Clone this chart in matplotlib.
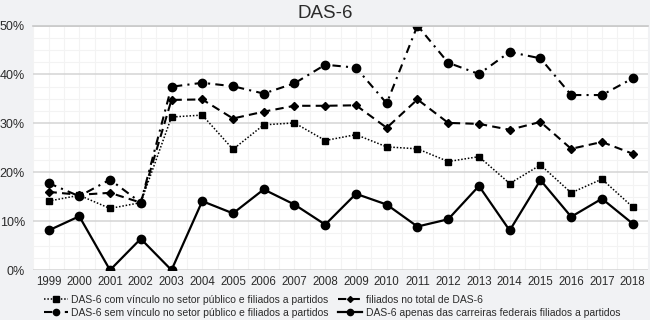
import matplotlib
matplotlib.use('Agg')
import matplotlib.pyplot as plt
from matplotlib.ticker import PercentFormatter, MultipleLocator

plt.rcParams['font.family'] = ['Liberation Sans', 'DejaVu Sans']

anos = list(range(1999, 2019))

# valores em %
com_vinculo = [14.1, 15.3, 12.6, 13.8, 31.3, 31.7, 24.7, 29.7, 30.1, 26.5,
               27.7, 25.2, 24.8, 22.2, 23.2, 17.7, 21.5, 15.8, 18.6, 12.9]
sem_vinculo = [17.8, 15.1, 18.5, 13.8, 37.5, 38.3, 37.6, 36.1, 38.2, 42.0,
               41.4, 34.1, 50.0, 42.4, 40.1, 44.6, 43.3, 35.8, 35.8, 39.2]
filiados_total = [16.0, 15.4, 15.8, 13.8, 34.8, 34.9, 31.0, 32.4, 33.6, 33.6,
                  33.7, 29.1, 34.9, 30.1, 29.9, 28.7, 30.3, 24.8, 26.2, 23.8]
carreiras = [8.1, 11.0, 0.0, 6.4, 0.0, 14.1, 11.6, 16.5, 13.4, 9.3,
             15.6, 13.4, 8.9, 10.4, 17.2, 8.1, 18.4, 10.9, 14.6, 9.5]

rotulos = ['DAS-6 com vínculo no setor público e filiados a partidos',
           'DAS-6 sem vínculo no setor público e filiados a partidos',
           'filiados no total de DAS-6',
           'DAS-6 apenas das carreiras federais filiados a partidos']

fundo = '#f1f2f4'
texto = '#2b2b2b'

fig = plt.figure(figsize=(6.5, 3.2), dpi=100, facecolor=fundo)
ax = fig.add_axes([0.051, 0.156, 0.946, 0.764])
ax.set_facecolor('white')

l1, = ax.plot(anos, com_vinculo, color='black', lw=1.1, ls=(0, (1, 1.2)),
              marker='s', ms=5)
l2, = ax.plot(anos, sem_vinculo, color='black', lw=1.5, ls=(0, (4, 2.5, 1, 2.5)),
              marker='o', ms=6)
l3, = ax.plot(anos, filiados_total, color='black', lw=1.5, ls=(0, (4, 2.5)),
              marker='D', ms=4)
l4, = ax.plot(anos, carreiras, color='black', lw=1.6, ls='-',
              marker='o', ms=6)

ax.set_xlim(1998.5, 2018.5)
ax.set_ylim(0, 50)
ax.yaxis.set_major_locator(MultipleLocator(10))
ax.yaxis.set_major_formatter(PercentFormatter(decimals=0))
ax.yaxis.set_minor_locator(MultipleLocator(2.5))
ax.set_xticks(anos)
ax.xaxis.set_minor_locator(MultipleLocator(0.5))

ax.grid(which='minor', color='#f3f3f3', lw=0.8)
ax.grid(which='major', axis='y', color='#d4d4d4', lw=1.1)
ax.grid(which='major', axis='x', color='#f3f3f3', lw=0.8)
ax.set_axisbelow(True)
for lado in ['left', 'right', 'bottom']:
    ax.spines[lado].set_visible(False)
ax.spines['top'].set_color('#c8c8c8')
ax.spines['top'].set_linewidth(1.2)

ax.tick_params(which='both', length=0)
ax.tick_params(axis='y', pad=6, labelsize=9, labelcolor=texto)
ax.tick_params(axis='x', pad=4, labelsize=8.3, labelcolor=texto)

fig.text(0.5, 0.958, 'DAS-6', ha='center', va='center', fontsize=13.5, color=texto)

# legenda em duas colunas embaixo
fig.legend([l1, l2, l3, l4], [rotulos[0], rotulos[1], rotulos[2], rotulos[3]],
           ncol=2, loc='lower left', bbox_to_anchor=(0.064, 0.0),
           borderaxespad=0, borderpad=0.2, markerscale=0.75,
           frameon=False, fontsize=7.5, handlelength=2.3, handletextpad=0.35,
           columnspacing=0.9, labelspacing=0.32, labelcolor=texto)

fig.savefig('out.png', dpi=100, facecolor=fundo)
